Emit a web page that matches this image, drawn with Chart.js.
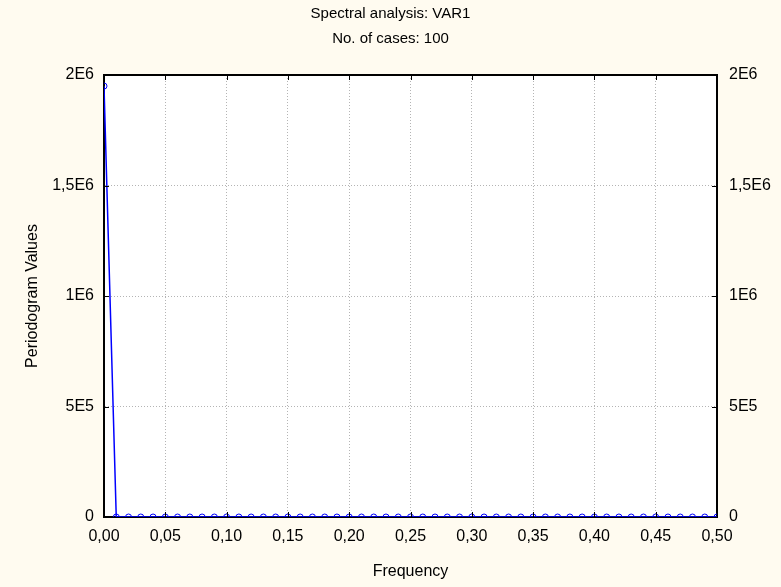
<!DOCTYPE html>
<html>
<head>
<meta charset="utf-8">
<script src="https://cdn.jsdelivr.net/npm/chart.js@4/dist/chart.umd.min.js"></script>
<style>
  html, body { margin: 0; padding: 0; background: #fffbf0; }
  #wrap { width: 781px; height: 587px; }
</style>
</head>
<body>
<div id="wrap"><canvas id="c" width="781" height="587"></canvas></div>
<script>
const titleLines = ['Spectral analysis: VAR1', 'No. of cases: 100'];
const xTitle = 'Frequency';
const yTitle = 'Periodogram Values';
const frequencies = [0.00,0.01,0.02,0.03,0.04,0.05,0.06,0.07,0.08,0.09,0.10,0.11,0.12,0.13,0.14,0.15,0.16,0.17,0.18,0.19,0.20,0.21,0.22,0.23,0.24,0.25,0.26,0.27,0.28,0.29,0.30,0.31,0.32,0.33,0.34,0.35,0.36,0.37,0.38,0.39,0.40,0.41,0.42,0.43,0.44,0.45,0.46,0.47,0.48,0.49,0.50];
const periodogram = [1950000,0,0,0,0,0,0,0,0,0,0,0,0,0,0,0,0,0,0,0,0,0,0,0,0,0,0,0,0,0,0,0,0,0,0,0,0,0,0,0,0,0,0,0,0,0,0,0,0,0,0];
const yTickLabels = {0: '0', 500000: '5E5', 1000000: '1E6', 1500000: '1,5E6', 2000000: '2E6'};

const FONT = "'Liberation Sans', Arial, sans-serif";
const points = frequencies.map((f, i) => ({x: f, y: periodogram[i]}));

const bgPlugin = {
  id: 'bg',
  beforeDraw(chart) {
    const {ctx, chartArea: a} = chart;
    ctx.save();
    ctx.fillStyle = '#fffbf0';
    ctx.fillRect(0, 0, chart.width, chart.height);
    ctx.fillStyle = '#ffffff';
    ctx.fillRect(a.left, a.top, a.right - a.left, a.bottom - a.top);
    ctx.restore();
  }
};
const innerTicks = {
  id: 'innerTicks',
  afterDatasetsDraw(chart) {
    const {ctx, chartArea: a, scales} = chart;
    ctx.save();
    ctx.strokeStyle = '#000';
    ctx.lineWidth = 1;
    ctx.beginPath();
    scales.x.ticks.forEach(t => {
      const px = Math.round(scales.x.getPixelForValue(t.value)) + 0.5;
      ctx.moveTo(px, a.bottom); ctx.lineTo(px, a.bottom - 5);
      ctx.moveTo(px, a.top); ctx.lineTo(px, a.top + 5);
    });
    scales.y.ticks.forEach(t => {
      const py = Math.round(scales.y.getPixelForValue(t.value)) + 0.5;
      ctx.moveTo(a.left, py); ctx.lineTo(a.left + 5, py);
      ctx.moveTo(a.right, py); ctx.lineTo(a.right - 5, py);
    });
    ctx.stroke();
    ctx.restore();
  }
};

new Chart(document.getElementById('c'), {
  type: 'line',
  data: {
    datasets: [{
      data: points,
      borderColor: '#0000ff',
      borderWidth: 1.5,
      pointStyle: 'circle',
      pointRadius: 3,
      pointBorderWidth: 1,
      pointBorderColor: '#0000ff',
      pointBackgroundColor: 'rgba(0,0,0,0)',
      tension: 0,
      yAxisID: 'y'
    }, {
      data: [],
      yAxisID: 'y2'
    }]
  },
  options: {
    responsive: false,
    animation: false,
    layout: { padding: 0 },
    plugins: {
      legend: { display: false },
      tooltip: { enabled: false },
      title: {
        display: true,
        text: titleLines,
        color: '#000',
        font: { family: FONT, size: 15, weight: 'normal', lineHeight: 25/15 },
        padding: { top: 1.5, bottom: 23.5 }
      }
    },
    scales: {
      x: {
        type: 'linear',
        min: 0, max: 0.5,
        position: 'bottom',
        afterFit: s => { s.height = 70; },
        ticks: {
          stepSize: 0.05,
          color: '#000',
          padding: 10,
          font: { family: FONT, size: 16 },
          maxRotation: 0,
          callback: v => v.toFixed(2).replace('.', ',')
        },
        grid: { color: '#b4b4b4', drawTicks: false, lineWidth: 1 },
        border: { display: true, color: '#000', width: 2, dash: [1, 2] },
        title: { display: true, text: xTitle, color: '#000', font: { family: FONT, size: 16 }, padding: { top: 0, bottom: 6 } }
      },
      x2: {
        type: 'linear',
        min: 0, max: 0.5,
        position: 'top',
        afterFit: s => { s.height = 0; },
        ticks: { display: false },
        grid: { display: false, drawTicks: false },
        border: { display: true, color: '#000', width: 2 }
      },
      y: {
        type: 'linear',
        min: 0, max: 2000000,
        position: 'left',
        afterFit: s => { s.width = 104; },
        ticks: {
          stepSize: 500000,
          color: '#000',
          padding: 10,
          font: { family: FONT, size: 16 },
          callback: v => yTickLabels[v] !== undefined ? yTickLabels[v] : ''
        },
        grid: { color: '#b4b4b4', drawTicks: false, lineWidth: 1 },
        border: { display: true, color: '#000', width: 2, dash: [1, 2] },
        title: { display: true, text: yTitle, color: '#000', font: { family: FONT, size: 16 }, padding: { top: 23, bottom: 0 } }
      },
      y2: {
        type: 'linear',
        min: 0, max: 2000000,
        position: 'right',
        afterFit: s => { s.width = 64; },
        ticks: {
          stepSize: 500000,
          color: '#000',
          padding: 12,
          font: { family: FONT, size: 16 },
          callback: v => yTickLabels[v] !== undefined ? yTickLabels[v] : ''
        },
        grid: { display: false, drawTicks: false },
        border: { display: true, color: '#000', width: 2 }
      }
    }
  },
  plugins: [bgPlugin, innerTicks]
});
</script>
</body>
</html>
